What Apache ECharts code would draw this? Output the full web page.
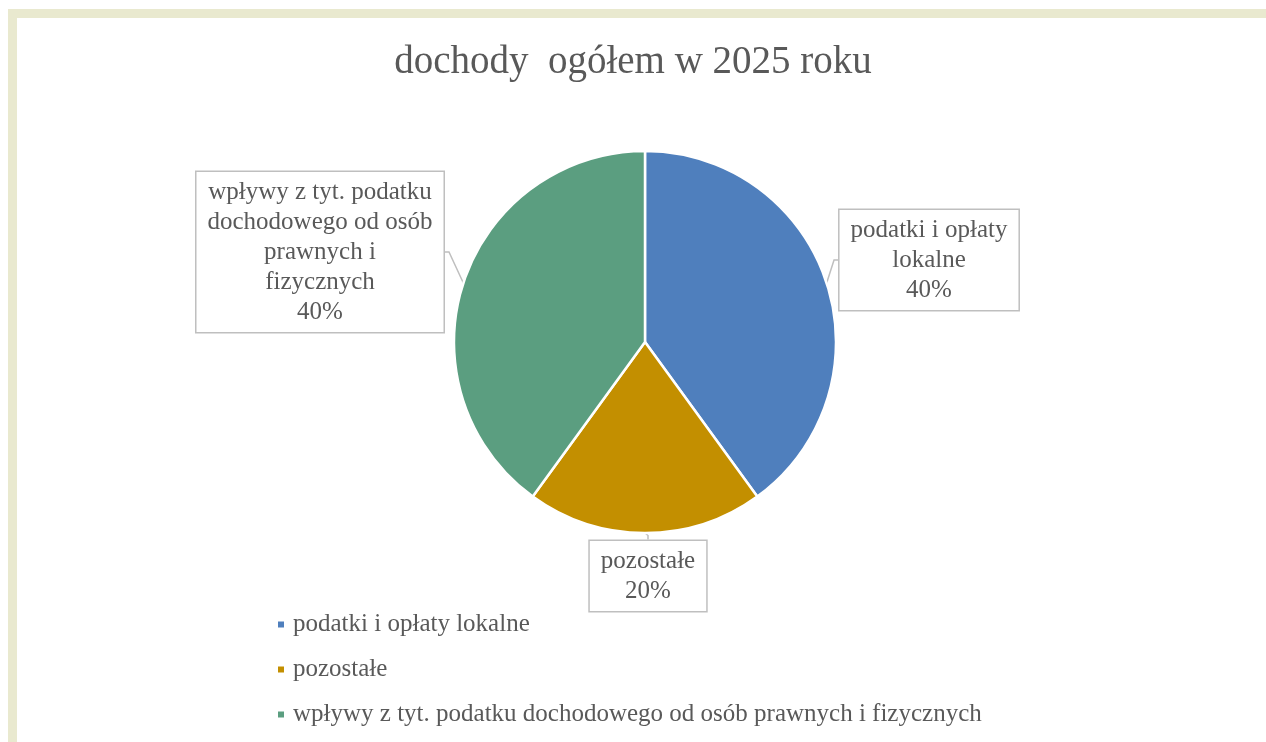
<!DOCTYPE html>
<html>
<head>
<meta charset="utf-8">
<script src="https://cdn.jsdelivr.net/npm/echarts@6/dist/echarts.min.js"></script>
<style>
  html, body { margin: 0; padding: 0; background: #fff; }
  .frame {
    position: absolute; left: 8px; top: 9px; width: 1258px; height: 733px;
    border-top: 9px solid #e9e9cf; border-left: 9px solid #e9e9cf;
    box-sizing: border-box; background: #fff;
  }
  #chart { position: absolute; left: 0; top: 0; width: 1266px; height: 742px; }
</style>
</head>
<body>
<div class="frame"></div>
<div id="chart"></div>
<script>
const titleText = 'dochody  ogółem w 2025 roku';
const categories = [
  'podatki i opłaty lokalne',
  'pozostałe',
  'wpływy z tyt. podatku dochodowego od osób prawnych i fizycznych'
];
const labelNames = [
  'podatki i opłaty\nlokalne',
  'pozostałe',
  'wpływy z tyt. podatku\ndochodowego od osób\nprawnych i\nfizycznych'
];
const values = [40, 20, 40];
const colors = ['#4f7fbd', '#c38f00', '#5b9e80'];

// where each callout box sits (centre of the box)
const labelSpots = [
  { x: 929, y: 260 },
  { x: 648, y: 576 },
  { x: 320, y: 252 }
];

const chart = echarts.init(document.getElementById('chart'));
const serif = '"Liberation Serif", "DejaVu Serif", serif';

chart.setOption({
  backgroundColor: 'transparent',
  animation: false,
  color: colors,
  title: {
    text: titleText,
    left: 'center',
    top: 38,
    textStyle: { fontFamily: serif, fontSize: 39, fontWeight: 'normal', color: '#595959' }
  },
  legend: {
    orient: 'vertical',
    left: 271,
    top: 607,
    itemWidth: 8,
    itemHeight: 8,
    itemGap: 20,
    icon: 'rect',
    data: categories,
    textStyle: { fontFamily: serif, fontSize: 25, color: '#595959', padding: [0, 0, 0, 3] }
  },
  series: [{
    type: 'pie',
    center: [645, 342],
    radius: 191,
    startAngle: 90,
    clockwise: true,
    itemStyle: { borderColor: '#fff', borderWidth: 2.5 },
    data: categories.map((c, i) => ({ name: c, value: values[i] })),
    label: {
      show: true,
      position: 'outside',
      formatter: p => labelNames[p.dataIndex] + '\n' + Math.round(p.percent) + '%',
      fontFamily: serif,
      fontSize: 25,
      lineHeight: 30,
      color: '#595959',
      align: 'center',
      backgroundColor: '#fff',
      borderColor: '#bfbfbf',
      borderWidth: 1.5,
      padding: [5, 11, 5, 11]
    },
    labelLine: {
      show: true,
      length: 8,
      length2: 4,
      lineStyle: { color: '#bfbfbf', width: 1.5 }
    },
    labelLayout: p => ({
      x: labelSpots[p.dataIndex].x,
      y: labelSpots[p.dataIndex].y,
      align: 'center',
      verticalAlign: 'middle'
    }),
    emphasis: { disabled: true }
  }]
});
</script>
</body>
</html>
